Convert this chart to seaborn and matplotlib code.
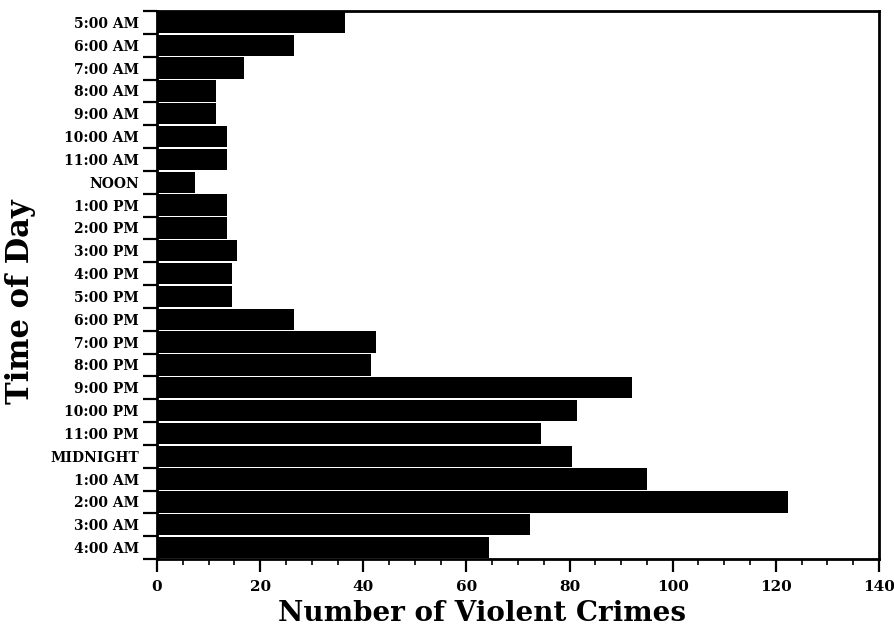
import matplotlib
matplotlib.use("Agg")
import matplotlib.pyplot as plt
import seaborn as sns
import pandas as pd
import numpy as np
from matplotlib.ticker import MultipleLocator, FixedLocator

hours = ["5:00 AM", "6:00 AM", "7:00 AM", "8:00 AM", "9:00 AM", "10:00 AM",
         "11:00 AM", "NOON", "1:00 PM", "2:00 PM", "3:00 PM", "4:00 PM",
         "5:00 PM", "6:00 PM", "7:00 PM", "8:00 PM", "9:00 PM", "10:00 PM",
         "11:00 PM", "MIDNIGHT", "1:00 AM", "2:00 AM", "3:00 AM", "4:00 AM"]
crimes = [36.5, 26.5, 16.8, 11.5, 11.5, 13.6, 13.6, 7.4, 13.6, 13.6, 15.5, 14.5,
          14.5, 26.5, 42.5, 41.4, 92.2, 81.4, 74.5, 80.4, 95.0, 122.3, 72.4, 64.3]

sns.set_style("ticks")
plt.rcParams['font.family'] = ['DejaVu Serif']
plt.rcParams.update({"text.color": "black", "axes.labelcolor": "black",
                     "xtick.color": "black", "ytick.color": "black"})

df = pd.DataFrame({"Time of Day": hours, "Number of Violent Crimes": crimes})

fig = plt.figure(figsize=(8.94, 6.31), dpi=100)
ax = fig.add_axes([157/894, 1-559/631, (879-157)/894, (559-11)/631])

sns.barplot(data=df, y="Time of Day", x="Number of Violent Crimes", order=hours,
            color="black", width=0.93, saturation=1, edgecolor="black",
            linewidth=0, ax=ax)

ax.set_xlim(0, 140)
ax.set_ylim(len(hours) - 0.5, -0.5)

ax.xaxis.set_major_locator(MultipleLocator(20))
ax.xaxis.set_minor_locator(MultipleLocator(5))
ax.tick_params(axis="x", which="major", length=9, width=1.6, direction="out",
               labelsize=11, pad=6)
ax.tick_params(axis="x", which="minor", length=4, width=1.2, direction="out")

ax.yaxis.set_minor_locator(FixedLocator(np.arange(-0.5, len(hours), 1.0)))
ax.tick_params(axis="y", which="major", length=0, labelsize=10, pad=13)
ax.tick_params(axis="y", which="minor", length=10, width=1.6, direction="out")

for lab in ax.get_xticklabels() + ax.get_yticklabels():
    lab.set_fontweight("bold")

for s in ax.spines.values():
    s.set_visible(True)
    s.set_linewidth(2)
    s.set_color("black")

ax.set_xlabel("Number of Violent Crimes", fontsize=20, fontweight="bold", labelpad=6)
ax.xaxis.set_label_coords(0.45, -0.075)
ax.set_ylabel("Time of Day", fontsize=22, fontweight="bold")
ax.yaxis.set_label_coords(-0.167, 0.47)

fig.savefig("out.png", dpi=100)
